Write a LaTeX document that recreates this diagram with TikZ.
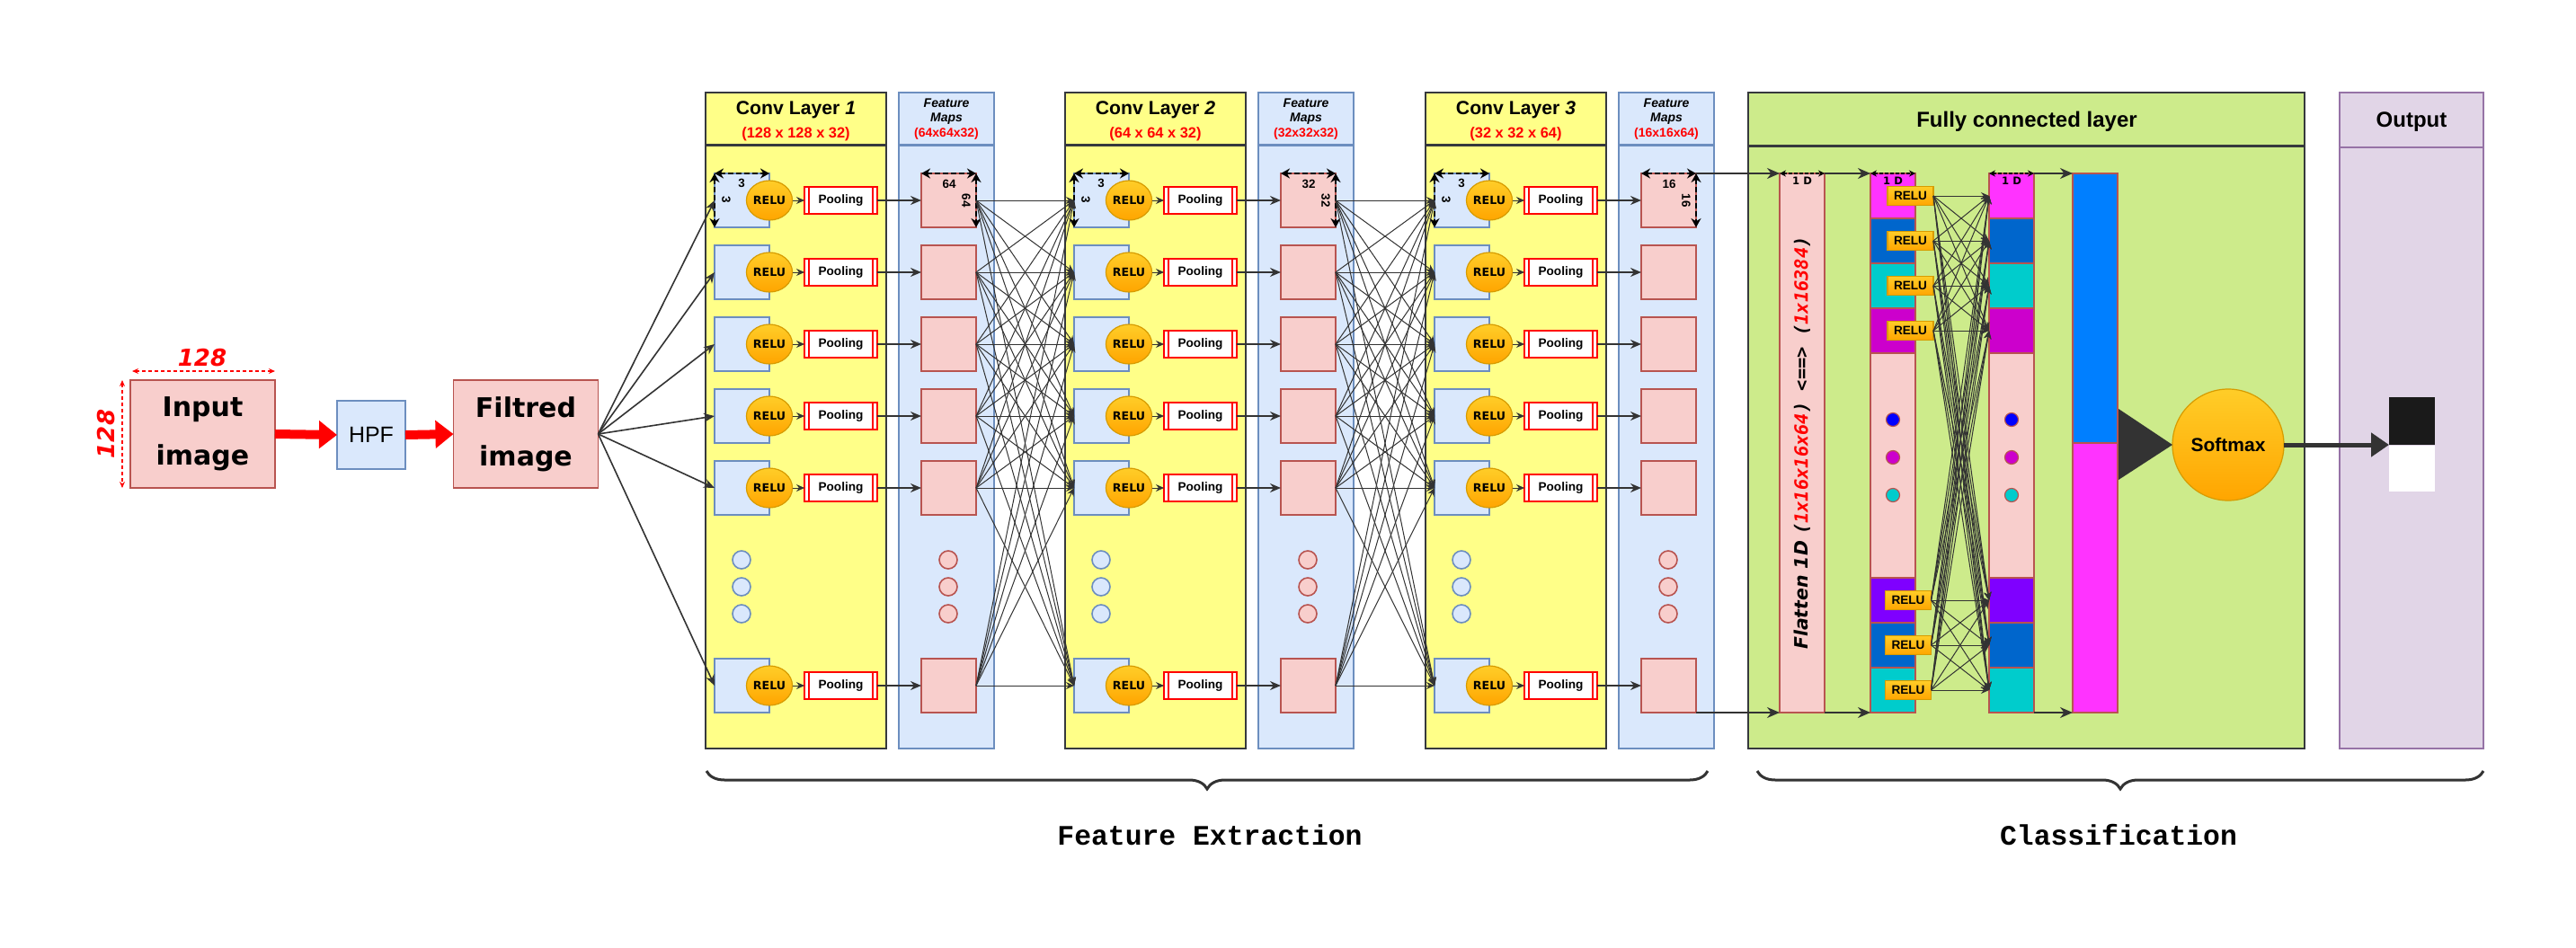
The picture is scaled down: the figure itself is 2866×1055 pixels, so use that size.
\documentclass[tikz,border=0pt]{standalone}
\usepackage{fontspec}
\setmainfont{Liberation Sans}
\newfontfamily\djv{DejaVu Sans}
\newfontfamily\djm{DejaVu Sans Mono}
\newfontfamily\lmono{Liberation Mono}
\usetikzlibrary{arrows.meta,decorations.pathreplacing,shapes.geometric,calc}
\definecolor{pinkf}{HTML}{F8CECC}
\definecolor{pinkd}{HTML}{B85450}
\definecolor{bluef}{HTML}{DAE8FC}
\definecolor{blued}{HTML}{6C8EBF}
\definecolor{yel}{HTML}{FFFF88}
\definecolor{dk}{HTML}{36393D}
\definecolor{grn}{HTML}{CDEB8B}
\definecolor{purf}{HTML}{E1D5E7}
\definecolor{purd}{HTML}{9673A6}
\definecolor{orT}{HTML}{FFCD28}
\definecolor{orB}{HTML}{FFA500}
\definecolor{ord}{HTML}{D79B00}
\definecolor{ln}{HTML}{333333}
\definecolor{mag}{HTML}{FF33FF}
\definecolor{fcb}{HTML}{0066CC}
\definecolor{cyn}{HTML}{00CCCC}
\definecolor{prp}{HTML}{CC00CC}
\definecolor{vio}{HTML}{7F00FF}
\definecolor{cfb}{HTML}{007FFF}
\definecolor{dotb}{HTML}{0000FF}
\definecolor{outk}{HTML}{1A1A1A}
\tikzset{
 every node/.style={inner sep=0pt, outer sep=0pt},
 conn/.style={draw=ln, line width=0.8pt, -{Stealth[length=6pt,width=5pt]}},
 xconn/.style={draw=ln, line width=0.5pt, -{Stealth[length=4.5pt,width=4pt]}},
 fconn/.style={draw=ln, line width=0.5pt, -{Stealth[length=4.5pt,width=4pt]}},
 conn2/.style={draw=ln, line width=0.9pt, -{Stealth[length=7pt,width=6pt]}},
 bigsq/.style={rectangle, draw=pinkd, fill=pinkf, line width=0.8pt, minimum width=80.5pt, minimum height=60pt, font=\djv\bfseries\fontsize{15}{27}\selectfont, align=center},
 hpfbox/.style={rectangle, draw=blued, fill=bluef, line width=0.8pt, minimum size=38pt, font=\fontsize{12.5}{14}\selectfont},
 redarr/.style={draw=red, line width=5pt, -{Triangle[length=10pt,width=15pt]}},
 reddim/.style={draw=red, line width=0.6pt, dash pattern=on 2pt off 1.5pt, {Stealth[length=3.5pt,width=3pt]}-{Stealth[length=3.5pt,width=3pt]}},
 redlbl/.style={text=red, font=\djv\bfseries\itshape\fontsize{13}{15}\selectfont},
 layerbox/.style={draw=dk, line width=1pt, fill=yel},
 fmbox/.style={draw=blued, line width=1pt, fill=bluef},
 ttl/.style={font=\bfseries\fontsize{10.6}{12}\selectfont},
 bigttl/.style={font=\bfseries\fontsize{12}{14}\selectfont},
 subt/.style={text=red, font=\bfseries\fontsize{8.2}{10}\selectfont},
 fmt/.style={font=\bfseries\itshape\fontsize{7}{8}\selectfont},
 fmd/.style={text=red, font=\bfseries\fontsize{7}{8}\selectfont},
 filtsq/.style={rectangle, draw=blued, fill=bluef, line width=0.8pt, minimum width=30.5pt, minimum height=30pt},
 fmsq/.style={rectangle, draw=pinkd, fill=pinkf, line width=0.8pt, minimum width=30.5pt, minimum height=30pt},
 relu/.style={ellipse, draw=ord, line width=0.6pt, top color=orT, bottom color=orB, minimum width=24.5pt, minimum height=22pt, font=\djv\bfseries\fontsize{6.3}{7}\selectfont},
 pool/.style={rectangle, draw=red, fill=white, line width=0.8pt, minimum width=40.5pt, minimum height=15pt, font=\bfseries\fontsize{6.8}{8}\selectfont},
 dimarr/.style={draw=black, line width=1.1pt, dash pattern=on 3pt off 1.5pt, {Stealth[length=5pt,width=5.5pt]}-{Stealth[length=5pt,width=5.5pt]}},
 dimsm/.style={draw=black, line width=0.6pt, dash pattern=on 2pt off 1pt, {Stealth[length=3.5pt,width=3.5pt]}-{Stealth[length=3.5pt,width=3.5pt]}},
 dimlbl/.style={font=\bfseries\fontsize{6.7}{8}\selectfont},
 oned/.style={font=\djv\bfseries\fontsize{5.8}{6}\selectfont},
 cdotb/.style={circle, draw=blued, fill=bluef, line width=0.8pt, minimum size=10pt},
 cdotp/.style={circle, draw=pinkd, fill=pinkf, line width=0.8pt, minimum size=10pt},
 seg/.style={rectangle, draw=pinkd, line width=0.8pt, minimum width=25pt, minimum height=25pt},
 sdot/.style={circle, draw=pinkd, line width=0.6pt, minimum size=7.5pt},
 fcrelu/.style={rectangle, draw=ord, line width=0.6pt, top color=orT, bottom color=orB, minimum width=25.5pt, minimum height=10.5pt, font=\bfseries\fontsize{6.8}{8}\selectfont},
 brc/.style={draw=ln, line width=1.5pt, decorate, decoration={brace, mirror, amplitude=10pt}},
 lbl/.style={font=\lmono\bfseries\fontsize{15.7}{18}\selectfont}
}
\begin{document}
\begin{tikzpicture}[x=0.5pt,y=-0.5pt]
\useasboundingbox (0,0) rectangle (2866,1055);
% ---------- input part
\node[bigsq] (inp) at (225.5,483) {Input\\image};
\node[hpfbox] (hpf) at (413,484) {HPF};
\node[bigsq] (fil) at (585,483) {Filtred\\image};
\draw[redarr] (inp.east) -- (hpf.west);
\draw[redarr] (hpf.east) -- (fil.west);
\draw[reddim] ($(inp.north west)+(2,-10)$) -- ($(inp.north east)+(0,-10)$);
\node[redlbl] (d128a) at (225,398) {128};
\draw[reddim] ($(inp.north west)+(-9,0)$) -- ($(inp.south west)+(-9,0)$);
\node[redlbl, rotate=90] (d128b) at (118,483) {128};
% ---------- conv layers
\foreach \k/\L/\cn/\subtx/\fmdim/\dimtxt in {1/785/1/{(128 x 128 x 32)}/{(64x64x32)}/64, 2/1185/2/{(64 x 64 x 32)}/{(32x32x32)}/32, 3/1586/3/{(32 x 32 x 64)}/{(16x16x64)}/16}{
  \path[layerbox] (\L,103) rectangle (\L+201,833);
  \draw[dk, line width=1.5pt] (\L,161) -- (\L+201,161);
  \path[fmbox] (\L+215,103) rectangle (\L+321,833);
  \draw[blued, line width=1.5pt] (\L+215,161) -- (\L+321,161);
  \node[ttl] (ct\k) at (\L+100.5,122) {Conv Layer \textit{\cn}};
  \node[subt] (cs\k) at (\L+100.5,149) {\subtx};
  \node[fmt] (fa\k) at (\L+268,115) {Feature};
  \node[fmt] (fb\k) at (\L+268,132) {Maps};
  \node[fmd] (fc\k) at (\L+268,149) {\fmdim};
  \foreach \r/\y in {1/223,2/303,3/383,4/463,5/543,6/763}{
    \node[filtsq] (f\k\r) at (\L+40.5,\y) {};
    \node[relu] (r\k\r) at (\L+71,\y) {RELU};
    \node[pool] (p\k\r) at (\L+150.5,\y) {Pooling};
    \draw[red, line width=0.6pt] ($(p\k\r.north west)+(5,0)$) -- ($(p\k\r.south west)+(5,0)$)
      ($(p\k\r.north east)+(-5,0)$) -- ($(p\k\r.south east)+(-5,0)$);
    \node[fmsq] (m\k\r) at (\L+270.5,\y) {};
    \draw[xconn] (r\k\r) -- (p\k\r);
    \draw[conn] (p\k\r) -- (m\k\r);
  }
  \foreach \d/\y in {1/623,2/653,3/683}{
    \node[cdotb] (cb\k\d) at (\L+40,\y) {};
    \node[cdotp] (cp\k\d) at (\L+270,\y) {};
  }
  \draw[dimarr] (f\k1.north west) -- (f\k1.north east);
  \draw[dimarr] (f\k1.north west) -- (f\k1.south west);
  \node[dimlbl] (dla\k) at (\L+40,204) {3};
  \node[dimlbl, rotate=-90] (dlb\k) at (\L+23,222) {3};
  \draw[dimarr] (m\k1.north west) -- (m\k1.north east);
  \draw[dimarr] (m\k1.north east) -- (m\k1.south east);
  \node[dimlbl] (dlc\k) at (\L+271,205) {\dimtxt};
  \node[dimlbl, rotate=-90] (dld\k) at (\L+290,223) {\dimtxt};
}
\foreach \r in {1,...,6}{
  \draw[conn] (fil.east) -- (f1\r.west);
}
\foreach \k/\n in {1/2,2/3}{
  \foreach \i in {1,...,6}{
    \foreach \j in {1,...,6}{
      \draw[xconn] (m\k\i.east) -- (f\n\j.west);
    }
  }
}
% ---------- fully connected
\path[draw=dk, line width=1pt, fill=grn] (1945,103) rectangle (2564,833);
\draw[dk, line width=1.5pt] (1945,162) -- (2564,162);
\node[bigttl] (fct) at (2255,135) {Fully connected layer};
\path[draw=purd, line width=1pt, fill=purf] (2603,103) rectangle (2763,833);
\draw[purd, line width=1pt] (2603,164) -- (2763,164);
\node[bigttl] (ott) at (2683,136) {Output};

\node[fmsq, minimum width=25pt, minimum height=300pt] (fl) at (2005,493) {};
\node[rotate=90, font=\fontsize{10.2}{12}\selectfont] (flt) at (2005,493)
  {{\djv\bfseries\itshape Flatten 1D }{\djm\bfseries\itshape (\textcolor{red}{1x16x16x64}) <==> (\textcolor{red}{1x16384})}};

\foreach \c/\X in {a/2106,b/2238}{
  \foreach \s/\y/\col in {1/218/mag,2/268/fcb,3/318/cyn,4/368/prp,5/668/vio,6/718/fcb,7/768/cyn}{
    \node[seg, fill=\col] (\c\s) at (\X,\y) {};
  }
  \node[seg, fill=pinkf, minimum height=125pt] (\c0) at (\X,518) {};
  \node[sdot, fill=dotb] (\c d1) at (\X,467) {};
  \node[sdot, fill=prp] (\c d2) at (\X,509) {};
  \node[sdot, fill=cyn] (\c d3) at (\X,551) {};
}
\node[seg, fill=cfb, minimum height=150pt] (c1) at (2331,343) {};
\node[seg, fill=mag, minimum height=150pt] (c2) at (2331,643) {};

\foreach \s/\x/\y in {1/2125.5/218,2/2125.5/268,3/2125.5/318,4/2125.5/368,5/2123/668,6/2123/718,7/2123/768}{
  \node[fcrelu] (q\s) at (\x,\y) {RELU};
}
\foreach \i in {1,...,7}{
  \foreach \j in {1,...,7}{
    \draw[fconn] (q\i.east) -- (b\j.west);
  }
}
\draw[conn2] (m31.north east) -- (fl.north west);
\draw[conn2] (m36.south east) -- (fl.south west);
\draw[conn2] (fl.north east) -- (a1.north west);
\draw[conn2] (fl.south east) -- (a7.south west);
\draw[conn2] (b1.north east) -- (c1.north west);
\draw[conn2] (b7.south east) -- (c2.south west);
\draw[dimsm] (fl.north west) -- (fl.north east);
\node[oned] (od1) at (2005,201) {1 D};
\draw[dimsm] (a1.north west) -- (a1.north east);
\node[oned] (od2) at (2106,201) {1 D};
\draw[dimsm] (b1.north west) -- (b1.north east);
\node[oned] (od3) at (2238,201) {1 D};

\node[circle, draw=ord, line width=0.6pt, top color=orT, bottom color=orB, minimum size=62pt, font=\bfseries\fontsize{10.5}{12}\selectfont] (sm) at (2479,495) {Softmax};
\fill[ln] (2357,455) -- (sm.west) -- (2357,534) -- cycle;
\node[rectangle, fill=outk, minimum width=25.5pt, minimum height=26.5pt] (ob) at (2683.5,468.5) {};
\node[rectangle, fill=white, minimum width=25.5pt, minimum height=25.5pt] (ow) at (2683.5,521) {};
\draw[ln, line width=2.5pt, -{Triangle[length=10pt,width=13pt]}] (sm.east) -- (ob.south west);

% ---------- braces and labels
\draw[brc] (786,858) -- (1900,858);
\draw[brc] (1955,858) -- (2763,858);
\node[lbl] (fe) at (1346,929) {Feature Extraction};
\node[lbl] (cl) at (2357,929) {Classification};
\end{tikzpicture}
\end{document}
